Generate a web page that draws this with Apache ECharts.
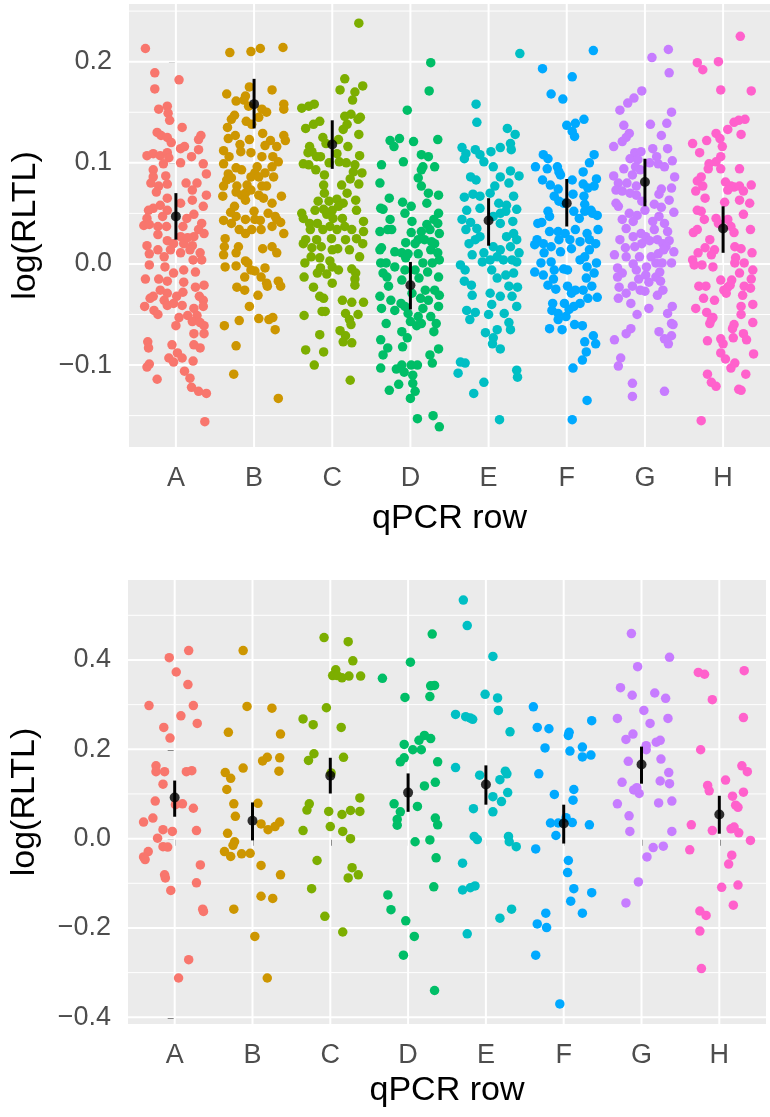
<!DOCTYPE html>
<html>
<head>
<meta charset="utf-8">
<script src="https://cdn.jsdelivr.net/npm/echarts@6/dist/echarts.min.js"></script>
<style>
  html, body { margin: 0; padding: 0; background: #ffffff; }
  #chart { width: 770px; height: 1117px; }
</style>
</head>
<body>
<div id="chart"></div>
<script>
// qPCR rows and their colours
const categories = ['A', 'B', 'C', 'D', 'E', 'F', 'G', 'H'];
const rowColors = ['#F8766D', '#CD9600', '#7CAE00', '#00BE67', '#00BFC4', '#00A9FF', '#C77CFF', '#FF61CC'];

// y tick values and labels of each panel
const topTicks = [-0.1, 0, 0.1, 0.2];
const topTickLabels = ['\u22120.1', '0.0', '0.1', '0.2'];
const topMinor = [-0.15, -0.05, 0.05, 0.15, 0.25];
const bottomTicks = [-0.4, -0.2, 0, 0.2, 0.4];
const bottomTickLabels = ['\u22120.4', '\u22120.2', '0.0', '0.2', '0.4'];
const bottomMinor = [-0.3, -0.1, 0.1, 0.3, 0.5];

// group means with their error bar limits
const topMean  = [0.047, 0.158, 0.118, -0.021, 0.043, 0.060, 0.081, 0.035];
const topLow   = [0.024, 0.134, 0.094, -0.045, 0.018, 0.037, 0.057, 0.011];
const topHigh  = [0.070, 0.183, 0.142, 0.002, 0.065, 0.084, 0.104, 0.057];
const bottomMean = [0.092, 0.040, 0.141, 0.103, 0.121, 0.034, 0.166, 0.054];
const bottomLow  = [0.049, -0.004, 0.101, 0.060, 0.076, -0.011, 0.123, 0.011];
const bottomHigh = [0.130, 0.081, 0.181, 0.146, 0.164, 0.076, 0.206, 0.096];

// individual samples: [horizontal jitter within the row, log(RLTL)]
const topA = [[-0.39,0.213],[-0.27,0.189],[0.04,0.182],[-0.27,0.173],[-0.22,0.153],[-0.11,0.156],[-0.10,0.149],[-0.08,0.142],[0.08,0.135],[0.32,0.127],[0.29,0.123],[-0.24,0.130],[-0.19,0.127],[-0.11,0.125],[-0.06,0.120],[0.29,0.113],[-0.37,0.107],[-0.29,0.109],[-0.20,0.107],[-0.11,0.110],[-0.09,0.105],[0.06,0.114],[0.11,0.116],[0.20,0.106],[0.06,0.100],[-0.16,0.099],[0.35,0.099],[-0.29,0.093],[0.39,0.089],[-0.29,0.086],[-0.13,0.087],[-0.32,0.080],[-0.22,0.077],[-0.11,0.079],[0.13,0.080],[0.27,0.080],[0.21,0.073],[0.39,0.068],[-0.25,0.071],[-0.11,0.065],[0.21,0.063],[0.06,0.060],[-0.20,0.058],[-0.29,0.055],[-0.35,0.053],[0.35,0.057],[-0.11,0.053],[0.23,0.049],[0.14,0.045],[-0.37,0.045],[-0.17,0.047],[-0.41,0.038],[-0.34,0.039],[-0.23,0.037],[-0.12,0.037],[0.09,0.037],[0.33,0.040],[0.29,0.034],[0.36,0.030],[-0.23,0.029],[0.06,0.027],[0.23,0.027],[-0.37,0.018],[-0.11,0.023],[-0.03,0.020],[0.10,0.020],[0.15,0.026],[0.21,0.018],[-0.07,0.014],[-0.23,0.014],[-0.34,0.010],[-0.15,0.007],[0.06,0.011],[0.18,0.014],[0.31,0.011],[0.33,0.004],[0.22,0.004],[-0.34,-0.001],[-0.14,-0.003],[-0.03,-0.009],[0.10,-0.006],[0.25,-0.008],[-0.39,-0.015],[-0.22,-0.015],[-0.11,-0.017],[0.10,-0.018],[0.25,-0.023],[0.36,-0.021],[-0.20,-0.026],[-0.11,-0.029],[-0.29,-0.032],[-0.15,-0.036],[0.01,-0.032],[0.09,-0.028],[0.30,-0.032],[0.35,-0.036],[-0.40,-0.042],[-0.33,-0.034],[-0.28,-0.046],[-0.23,-0.050],[-0.11,-0.041],[-0.03,-0.039],[0.08,-0.041],[0.15,-0.051],[0.23,-0.044],[0.27,-0.051],[0.35,-0.042],[0.04,-0.053],[0.00,-0.061],[0.21,-0.057],[0.31,-0.058],[0.36,-0.061],[0.23,-0.069],[0.36,-0.069],[-0.36,-0.077],[-0.35,-0.083],[-0.05,-0.080],[0.02,-0.088],[0.23,-0.080],[0.31,-0.083],[-0.09,-0.093],[-0.03,-0.097],[0.08,-0.093],[0.22,-0.096],[-0.34,-0.099],[-0.37,-0.102],[0.11,-0.106],[-0.24,-0.114],[0.18,-0.113],[0.20,-0.122],[0.29,-0.126],[0.39,-0.128],[0.37,-0.156]];
const topB = [[-0.31,0.209],[-0.04,0.210],[0.08,0.213],[0.37,0.214],[-0.35,0.168],[0.23,0.172],[-0.06,0.175],[-0.11,0.166],[-0.23,0.161],[-0.13,0.162],[-0.07,0.156],[0.10,0.153],[0.16,0.150],[0.38,0.158],[0.38,0.153],[-0.25,0.147],[-0.29,0.143],[0.06,0.145],[-0.10,0.141],[-0.03,0.138],[-0.34,0.135],[-0.33,0.124],[-0.24,0.127],[-0.06,0.123],[0.11,0.129],[0.21,0.122],[0.14,0.117],[0.29,0.116],[0.38,0.127],[0.40,0.122],[-0.18,0.118],[-0.39,0.112],[-0.17,0.111],[-0.04,0.110],[-0.32,0.106],[-0.39,0.099],[0.10,0.106],[0.24,0.106],[0.23,0.096],[-0.23,0.095],[-0.33,0.089],[-0.35,0.083],[-0.04,0.086],[0.04,0.096],[0.01,0.090],[0.06,0.086],[0.14,0.090],[0.25,0.086],[-0.39,0.077],[-0.22,0.077],[-0.09,0.078],[0.10,0.077],[-0.40,0.067],[-0.23,0.071],[-0.16,0.068],[-0.11,0.070],[-0.04,0.073],[0.06,0.068],[0.12,0.065],[-0.11,0.063],[0.23,0.060],[0.35,0.067],[-0.25,0.057],[0.00,0.052],[0.18,0.050],[0.27,0.047],[-0.39,0.043],[-0.29,0.040],[-0.23,0.047],[-0.11,0.044],[0.01,0.044],[0.08,0.043],[0.23,0.037],[0.34,0.041],[-0.19,0.034],[-0.11,0.030],[0.09,0.034],[0.38,0.030],[-0.37,0.025],[-0.38,0.017],[-0.20,0.017],[-0.23,0.011],[-0.39,0.009],[0.11,0.015],[0.23,0.017],[0.29,0.011],[-0.11,0.003],[-0.08,0.001],[-0.37,-0.003],[-0.23,-0.002],[-0.04,-0.006],[0.14,-0.004],[0.01,-0.007],[-0.12,-0.013],[0.09,-0.013],[0.16,-0.019],[0.17,-0.022],[0.31,-0.017],[0.34,-0.022],[-0.22,-0.023],[-0.12,-0.026],[0.05,-0.031],[-0.06,-0.042],[0.06,-0.054],[0.19,-0.055],[0.24,-0.053],[0.27,-0.065],[-0.19,-0.056],[-0.38,-0.061],[-0.23,-0.081],[-0.26,-0.109],[0.31,-0.133],[-0.30,0.051],[-0.03,0.034],[0.16,0.077],[-0.29,0.085],[-0.16,0.093],[0.31,0.101],[0.29,0.044]];
const topC = [[0.34,0.238],[0.16,0.183],[0.10,0.172],[0.39,0.176],[0.29,0.170],[0.26,0.162],[-0.39,0.154],[-0.30,0.156],[-0.23,0.158],[0.16,0.146],[0.24,0.148],[0.33,0.143],[0.36,0.145],[-0.16,0.141],[-0.24,0.138],[-0.34,0.134],[0.19,0.138],[0.14,0.133],[-0.12,0.125],[0.34,0.128],[-0.08,0.119],[0.08,0.123],[0.20,0.116],[-0.29,0.116],[-0.26,0.111],[-0.31,0.110],[-0.20,0.106],[-0.15,0.106],[-0.37,0.099],[-0.30,0.098],[-0.21,0.093],[-0.04,0.100],[0.06,0.109],[0.09,0.101],[0.35,0.107],[0.18,0.100],[0.29,0.098],[0.27,0.091],[0.23,0.084],[0.38,0.090],[0.34,0.079],[-0.10,0.088],[-0.11,0.078],[0.12,0.078],[-0.10,0.070],[0.19,0.070],[0.30,0.063],[-0.18,0.062],[-0.04,0.062],[0.06,0.064],[0.14,0.060],[-0.22,0.053],[-0.11,0.054],[0.00,0.053],[0.08,0.057],[-0.07,0.049],[-0.39,0.050],[0.31,0.053],[-0.37,0.045],[-0.29,0.040],[-0.19,0.040],[0.01,0.045],[0.13,0.045],[-0.03,0.037],[0.16,0.037],[0.40,0.042],[-0.28,0.034],[-0.12,0.034],[0.06,0.034],[0.25,0.034],[0.40,0.032],[-0.34,0.024],[-0.20,0.024],[-0.01,0.025],[0.17,0.024],[0.31,0.025],[0.39,0.020],[-0.37,0.020],[-0.26,0.016],[-0.14,0.017],[0.00,0.014],[0.07,0.015],[0.22,0.014],[-0.27,0.007],[-0.16,0.006],[-0.35,0.001],[-0.03,0.003],[0.35,0.007],[-0.15,-0.004],[0.00,-0.003],[0.08,-0.006],[0.25,-0.005],[0.30,-0.009],[-0.19,-0.009],[-0.07,-0.010],[0.00,-0.019],[-0.36,-0.013],[0.29,-0.015],[0.29,-0.021],[-0.24,-0.023],[-0.16,-0.032],[-0.11,-0.034],[0.13,-0.036],[0.25,-0.038],[0.40,-0.038],[-0.13,-0.047],[-0.09,-0.047],[0.17,-0.049],[0.22,-0.055],[0.33,-0.050],[-0.36,-0.051],[0.24,-0.060],[0.10,-0.066],[0.17,-0.071],[0.14,-0.077],[0.25,-0.078],[-0.16,-0.070],[-0.34,-0.085],[-0.11,-0.087],[-0.23,-0.100],[0.23,-0.115]];
const topD = [[0.26,0.199],[0.24,0.171],[-0.04,0.152],[-0.26,0.122],[-0.14,0.124],[-0.21,0.116],[0.04,0.121],[0.35,0.123],[-0.09,0.101],[0.14,0.108],[0.23,0.106],[-0.37,0.098],[0.31,0.096],[0.16,0.096],[0.14,0.093],[-0.39,0.080],[0.10,0.085],[0.14,0.077],[0.23,0.070],[0.36,0.068],[-0.27,0.065],[0.21,0.060],[-0.10,0.061],[0.01,0.057],[-0.38,0.055],[-0.35,0.054],[-0.26,0.044],[-0.07,0.050],[0.36,0.050],[0.02,0.042],[0.30,0.044],[0.21,0.039],[-0.29,0.034],[-0.24,0.034],[-0.39,0.032],[0.01,0.031],[0.14,0.032],[0.25,0.034],[0.35,0.040],[0.37,0.030],[0.10,0.024],[0.18,0.024],[0.27,0.022],[-0.06,0.021],[-0.37,0.016],[-0.39,0.014],[-0.20,0.012],[0.06,0.020],[0.31,0.020],[-0.11,0.011],[-0.03,0.010],[0.10,0.010],[0.26,0.014],[0.35,0.011],[-0.38,0.001],[-0.31,0.001],[-0.20,-0.003],[-0.06,0.006],[0.16,0.001],[0.28,0.001],[0.37,0.004],[-0.35,-0.009],[-0.30,-0.013],[-0.07,-0.006],[0.06,-0.006],[0.22,-0.008],[0.36,-0.013],[-0.11,-0.016],[0.11,-0.014],[-0.28,-0.022],[0.02,-0.029],[0.19,-0.026],[0.31,-0.026],[0.37,-0.031],[-0.39,-0.032],[-0.25,-0.036],[-0.12,-0.039],[0.13,-0.034],[0.23,-0.036],[-0.37,-0.044],[-0.20,-0.046],[-0.07,-0.042],[0.16,-0.044],[0.36,-0.042],[-0.03,-0.049],[0.10,-0.052],[0.26,-0.052],[-0.31,-0.059],[0.00,-0.057],[0.08,-0.061],[0.14,-0.059],[0.33,-0.059],[-0.11,-0.067],[0.30,-0.067],[-0.04,-0.073],[-0.38,-0.075],[-0.29,-0.083],[-0.35,-0.090],[-0.10,-0.082],[0.25,-0.090],[0.36,-0.084],[-0.38,-0.103],[-0.18,-0.104],[-0.11,-0.100],[0.01,-0.100],[0.09,-0.100],[0.28,-0.098],[-0.08,-0.107],[0.03,-0.110],[-0.27,-0.125],[-0.15,-0.119],[0.03,-0.118],[0.06,-0.126],[0.00,-0.133],[0.09,-0.153],[0.29,-0.150],[0.37,-0.161]];
const topE = [[0.40,0.208],[-0.16,0.158],[-0.15,0.140],[0.24,0.134],[0.34,0.128],[0.28,0.119],[0.29,0.113],[-0.34,0.115],[-0.29,0.109],[-0.17,0.113],[-0.31,0.104],[-0.11,0.108],[-0.06,0.101],[0.03,0.111],[0.15,0.115],[0.06,0.096],[0.28,0.092],[0.39,0.087],[-0.23,0.086],[-0.16,0.083],[0.15,0.086],[0.08,0.077],[0.26,0.080],[-0.31,0.066],[-0.20,0.069],[-0.11,0.067],[0.32,0.067],[0.02,0.070],[0.13,0.060],[0.23,0.058],[0.36,0.054],[-0.28,0.053],[-0.11,0.055],[-0.34,0.044],[-0.23,0.041],[-0.29,0.034],[-0.15,0.035],[0.06,0.047],[0.15,0.050],[0.22,0.052],[0.31,0.042],[0.15,0.040],[-0.17,0.024],[-0.11,0.027],[-0.25,0.020],[0.23,0.027],[0.32,0.030],[0.36,0.024],[-0.06,0.011],[0.06,0.017],[0.15,0.014],[0.28,0.017],[0.39,0.011],[-0.21,0.009],[-0.36,-0.001],[-0.08,0.002],[0.02,0.004],[0.11,0.007],[0.19,0.004],[0.30,0.004],[0.36,0.002],[-0.30,-0.006],[0.04,-0.006],[0.32,-0.009],[-0.31,-0.017],[-0.22,-0.021],[0.11,-0.014],[0.22,-0.011],[0.26,-0.022],[0.37,-0.023],[-0.21,-0.031],[0.02,-0.029],[0.15,-0.032],[0.30,-0.032],[0.36,-0.042],[0.04,-0.040],[-0.28,-0.046],[-0.17,-0.048],[-0.24,-0.055],[0.00,-0.050],[0.20,-0.049],[0.26,-0.058],[0.28,-0.065],[-0.04,-0.068],[0.11,-0.065],[0.06,-0.073],[0.05,-0.079],[0.15,-0.084],[-0.36,-0.097],[-0.30,-0.098],[-0.39,-0.108],[0.36,-0.105],[0.37,-0.112],[-0.06,-0.117],[-0.19,-0.128],[0.14,-0.154]];
const topF = [[0.34,0.211],[-0.31,0.193],[0.07,0.185],[-0.20,0.168],[-0.05,0.163],[0.22,0.143],[0.00,0.137],[0.11,0.139],[0.07,0.131],[0.10,0.126],[0.35,0.108],[0.29,0.100],[-0.30,0.108],[-0.24,0.104],[-0.40,0.096],[-0.25,0.094],[-0.12,0.096],[-0.10,0.091],[-0.08,0.088],[0.21,0.091],[0.38,0.084],[-0.31,0.083],[-0.21,0.078],[-0.11,0.074],[0.07,0.083],[0.21,0.079],[0.27,0.075],[0.35,0.077],[-0.16,0.067],[-0.10,0.062],[-0.04,0.060],[0.08,0.069],[0.22,0.067],[0.23,0.059],[0.31,0.053],[0.39,0.048],[-0.24,0.052],[-0.22,0.047],[-0.37,0.040],[-0.32,0.041],[0.09,0.052],[0.16,0.045],[0.23,0.052],[0.33,0.050],[-0.22,0.032],[-0.11,0.032],[-0.02,0.030],[0.11,0.034],[0.26,0.030],[0.40,0.034],[-0.38,0.024],[-0.41,0.019],[-0.30,0.020],[-0.20,0.017],[-0.10,0.024],[0.04,0.024],[0.17,0.022],[0.29,0.024],[0.37,0.020],[-0.29,0.011],[-0.08,0.012],[0.06,0.015],[0.17,0.004],[0.23,0.007],[0.29,0.014],[0.38,0.001],[-0.33,0.001],[-0.20,0.002],[-0.04,-0.005],[-0.41,-0.008],[-0.30,-0.011],[-0.16,-0.006],[0.01,-0.006],[0.26,-0.003],[0.35,-0.009],[0.25,-0.014],[-0.17,-0.015],[-0.24,-0.021],[0.01,-0.022],[0.11,-0.026],[0.21,-0.026],[0.32,-0.022],[0.39,-0.033],[0.27,-0.034],[-0.14,-0.025],[0.06,-0.029],[-0.18,-0.039],[-0.03,-0.039],[0.09,-0.042],[0.17,-0.039],[-0.19,-0.046],[-0.11,-0.049],[0.03,-0.045],[-0.11,-0.055],[-0.01,-0.052],[0.10,-0.060],[0.20,-0.061],[-0.22,-0.064],[-0.06,-0.065],[0.34,-0.071],[0.23,-0.077],[0.37,-0.079],[0.25,-0.087],[0.20,-0.095],[0.08,-0.103],[0.26,-0.135],[0.07,-0.154]];
const topG = [[0.30,0.212],[0.09,0.204],[0.31,0.189],[-0.04,0.171],[-0.14,0.164],[-0.22,0.159],[-0.32,0.152],[0.34,0.150],[0.07,0.138],[0.28,0.139],[-0.27,0.137],[-0.20,0.129],[-0.24,0.125],[-0.29,0.121],[0.21,0.127],[-0.40,0.116],[0.10,0.114],[0.29,0.114],[-0.13,0.110],[-0.05,0.111],[-0.19,0.104],[-0.09,0.103],[0.15,0.106],[0.06,0.100],[0.17,0.099],[0.25,0.096],[0.35,0.102],[-0.27,0.094],[-0.12,0.096],[-0.06,0.093],[-0.40,0.087],[-0.16,0.088],[0.38,0.086],[-0.34,0.080],[-0.23,0.080],[-0.11,0.077],[-0.37,0.073],[-0.29,0.072],[-0.11,0.068],[-0.19,0.070],[0.21,0.074],[0.34,0.075],[0.18,0.069],[0.31,0.063],[-0.04,0.062],[-0.37,0.060],[-0.34,0.057],[0.12,0.059],[0.21,0.056],[0.00,0.053],[0.37,0.051],[-0.20,0.050],[-0.10,0.048],[0.18,0.047],[-0.29,0.044],[-0.15,0.042],[0.10,0.042],[0.25,0.040],[-0.24,0.035],[0.12,0.034],[0.29,0.032],[-0.05,0.030],[0.01,0.027],[-0.32,0.024],[-0.15,0.027],[0.06,0.023],[0.16,0.024],[0.23,0.020],[0.31,0.023],[-0.25,0.016],[-0.13,0.017],[-0.04,0.020],[0.27,0.017],[0.37,0.012],[-0.39,0.009],[-0.24,0.007],[-0.07,0.007],[0.08,0.007],[0.17,0.010],[0.24,0.014],[-0.35,-0.004],[-0.15,0.000],[0.02,-0.003],[0.14,0.001],[0.22,0.001],[0.34,0.001],[-0.29,-0.009],[-0.11,-0.006],[0.01,-0.011],[0.14,-0.013],[0.19,-0.008],[-0.35,-0.013],[-0.08,-0.015],[0.05,-0.018],[0.20,-0.017],[-0.33,-0.023],[-0.24,-0.029],[-0.16,-0.022],[-0.06,-0.026],[0.00,-0.027],[0.16,-0.031],[0.23,-0.026],[-0.34,-0.034],[-0.18,-0.039],[0.05,-0.044],[-0.10,-0.050],[0.35,-0.042],[0.29,-0.049],[0.34,-0.059],[0.36,-0.060],[0.18,-0.067],[0.25,-0.074],[0.30,-0.079],[0.34,-0.071],[-0.18,-0.064],[-0.24,-0.069],[-0.39,-0.075],[-0.31,-0.093],[-0.34,-0.101],[-0.16,-0.118],[-0.16,-0.131],[0.25,-0.126]];
const topH = [[0.22,0.225],[-0.33,0.199],[-0.26,0.192],[-0.06,0.200],[-0.03,0.172],[0.36,0.171],[0.28,0.143],[0.20,0.142],[0.14,0.140],[0.06,0.133],[0.23,0.128],[-0.09,0.129],[-0.04,0.124],[-0.39,0.119],[-0.21,0.122],[-0.30,0.110],[-0.01,0.116],[-0.03,0.106],[-0.09,0.101],[-0.18,0.099],[-0.19,0.094],[-0.03,0.094],[0.21,0.094],[-0.28,0.086],[-0.33,0.082],[-0.26,0.077],[0.03,0.081],[0.10,0.077],[0.14,0.076],[0.21,0.077],[0.36,0.078],[0.26,0.072],[-0.35,0.072],[-0.23,0.065],[0.21,0.063],[0.34,0.060],[0.02,0.061],[0.06,0.073],[-0.28,0.052],[-0.33,0.053],[0.26,0.049],[-0.09,0.045],[0.06,0.044],[-0.06,0.040],[0.10,0.037],[0.14,0.031],[0.35,0.034],[-0.38,0.031],[-0.33,0.034],[-0.24,0.044],[-0.17,0.024],[0.15,0.017],[0.23,0.015],[-0.23,0.016],[-0.11,0.014],[-0.32,0.011],[-0.15,0.009],[0.37,0.011],[-0.39,0.004],[-0.37,-0.001],[-0.27,-0.001],[-0.13,-0.003],[0.16,0.006],[0.15,0.001],[0.27,0.001],[0.21,-0.009],[0.38,-0.006],[-0.03,-0.016],[0.11,-0.016],[0.06,-0.023],[0.01,-0.026],[0.09,-0.021],[0.27,-0.022],[0.36,-0.015],[-0.31,-0.022],[-0.22,-0.022],[0.35,-0.024],[-0.25,-0.034],[-0.11,-0.036],[0.04,-0.029],[0.25,-0.031],[-0.35,-0.044],[-0.21,-0.048],[-0.13,-0.053],[-0.17,-0.059],[0.23,-0.042],[0.38,-0.040],[0.23,-0.050],[-0.15,-0.055],[0.14,-0.060],[0.12,-0.064],[0.38,-0.058],[0.26,-0.069],[0.30,-0.075],[-0.20,-0.076],[-0.03,-0.074],[0.00,-0.079],[0.13,-0.073],[-0.03,-0.088],[0.03,-0.094],[0.39,-0.089],[0.10,-0.103],[0.15,-0.098],[-0.20,-0.109],[0.29,-0.109],[-0.15,-0.117],[-0.09,-0.121],[0.20,-0.124],[0.23,-0.125],[-0.28,-0.155]];

const bottomA = [[0.18,0.421],[-0.07,0.405],[0.02,0.373],[0.17,0.345],[-0.33,0.298],[0.24,0.298],[0.08,0.275],[-0.14,0.249],[0.29,0.258],[-0.06,0.225],[-0.24,0.163],[-0.24,0.150],[-0.13,0.150],[0.15,0.150],[0.22,0.152],[-0.15,0.122],[-0.25,0.084],[0.01,0.076],[0.10,0.078],[0.24,0.068],[-0.28,0.046],[-0.40,0.037],[-0.15,0.020],[-0.03,0.016],[0.28,0.018],[-0.22,0.001],[-0.15,-0.018],[-0.09,-0.019],[-0.34,-0.029],[-0.40,-0.041],[-0.38,-0.047],[0.33,-0.059],[-0.13,-0.081],[-0.12,-0.088],[0.28,-0.099],[-0.05,-0.116],[0.36,-0.158],[0.37,-0.163],[0.18,-0.271],[0.05,-0.312]];
const bottomB = [[-0.12,0.421],[-0.07,0.296],[0.25,0.292],[-0.31,0.238],[0.36,0.234],[0.13,0.174],[0.19,0.182],[0.35,0.181],[0.34,0.151],[-0.12,0.158],[-0.35,0.148],[-0.28,0.135],[-0.33,0.110],[-0.24,0.078],[0.07,0.079],[-0.22,0.050],[0.11,0.033],[0.20,0.020],[0.29,0.027],[0.35,0.037],[-0.32,0.012],[-0.23,-0.007],[-0.25,-0.015],[-0.36,-0.029],[-0.28,-0.040],[-0.14,-0.034],[-0.03,-0.033],[0.11,-0.060],[0.36,-0.081],[0.11,-0.129],[0.26,-0.134],[-0.24,-0.158],[0.03,-0.219],[0.19,-0.312]];
const bottomC = [[-0.08,0.450],[0.23,0.441],[0.29,0.398],[0.07,0.378],[0.03,0.365],[0.15,0.360],[0.24,0.364],[0.39,0.364],[0.09,0.365],[-0.05,0.293],[-0.35,0.268],[-0.22,0.255],[0.14,0.249],[-0.21,0.190],[-0.28,0.175],[0.17,0.182],[0.01,0.147],[-0.27,0.078],[-0.30,0.064],[0.38,0.091],[-0.02,0.061],[0.15,0.054],[0.26,0.063],[0.38,0.061],[-0.35,0.018],[0.00,0.027],[0.16,0.016],[0.26,0.000],[-0.17,-0.049],[0.28,-0.065],[0.23,-0.088],[0.36,-0.081],[-0.24,-0.112],[-0.07,-0.174],[0.16,-0.209]];
const bottomD = [[0.31,0.458],[0.03,0.395],[-0.33,0.359],[0.29,0.342],[0.34,0.343],[-0.04,0.316],[0.28,0.318],[0.21,0.231],[0.14,0.220],[0.29,0.224],[-0.05,0.211],[0.06,0.199],[0.17,0.199],[-0.05,0.181],[-0.10,0.172],[0.38,0.172],[0.35,0.126],[0.21,0.118],[-0.18,0.078],[0.12,0.072],[-0.10,0.060],[-0.14,0.043],[-0.14,0.030],[0.35,0.046],[0.38,0.031],[0.09,-0.007],[0.28,-0.003],[0.36,-0.043],[0.33,-0.108],[-0.26,-0.126],[-0.22,-0.159],[-0.03,-0.184],[0.08,-0.219],[-0.06,-0.261],[0.34,-0.340]];
const bottomE = [[-0.29,0.534],[-0.24,0.477],[0.09,0.408],[-0.01,0.323],[0.15,0.315],[0.16,0.287],[-0.39,0.278],[-0.26,0.273],[-0.20,0.270],[-0.17,0.267],[0.31,0.239],[-0.39,0.159],[-0.08,0.142],[0.25,0.151],[0.27,0.145],[0.18,0.132],[0.28,0.103],[0.09,0.094],[0.20,0.083],[-0.16,0.067],[0.09,0.060],[-0.15,0.005],[-0.11,-0.002],[0.29,0.005],[0.30,-0.007],[0.39,-0.018],[-0.30,-0.055],[-0.30,-0.115],[-0.20,-0.110],[-0.14,-0.106],[0.33,-0.158],[0.18,-0.178],[-0.24,-0.213]];
const bottomF = [[-0.39,0.295],[0.36,0.264],[-0.34,0.249],[-0.19,0.246],[0.07,0.238],[0.06,0.231],[-0.24,0.203],[0.08,0.196],[0.24,0.205],[0.24,0.183],[0.35,0.187],[-0.32,0.145],[0.13,0.110],[-0.12,0.099],[0.12,0.086],[-0.17,0.035],[-0.07,0.035],[0.03,0.047],[0.11,0.036],[0.33,0.031],[-0.10,0.007],[-0.36,-0.023],[0.06,-0.049],[0.05,-0.076],[0.13,-0.112],[0.36,-0.121],[0.09,-0.140],[-0.23,-0.167],[0.24,-0.167],[-0.34,-0.191],[-0.22,-0.199],[-0.36,-0.261],[-0.05,-0.370]];
const bottomG = [[-0.13,0.459],[0.36,0.406],[-0.05,0.385],[-0.27,0.338],[-0.12,0.321],[0.17,0.326],[0.31,0.314],[0.03,0.287],[-0.31,0.269],[0.11,0.258],[0.34,0.269],[-0.11,0.234],[-0.20,0.222],[0.06,0.208],[0.06,0.199],[0.19,0.216],[0.24,0.220],[-0.17,0.173],[0.25,0.178],[0.35,0.148],[-0.25,0.126],[0.24,0.129],[0.36,0.123],[-0.10,0.109],[-0.06,0.114],[-0.03,0.101],[-0.31,0.078],[0.22,0.080],[0.39,0.084],[-0.16,0.051],[-0.15,0.016],[0.39,0.016],[0.15,-0.020],[0.28,-0.017],[0.07,-0.041],[-0.04,-0.097],[-0.20,-0.144]];
const bottomH = [[-0.27,0.372],[-0.19,0.368],[0.32,0.376],[-0.09,0.311],[0.31,0.271],[-0.24,0.199],[0.29,0.163],[0.36,0.150],[0.08,0.131],[-0.15,0.119],[-0.13,0.107],[0.17,0.095],[0.31,0.104],[0.21,0.075],[0.24,0.070],[-0.36,0.031],[-0.09,0.018],[0.15,0.022],[0.19,0.026],[0.25,0.013],[0.40,-0.004],[-0.38,-0.025],[0.16,-0.037],[0.12,-0.057],[0.03,-0.109],[0.24,-0.104],[0.18,-0.149],[-0.25,-0.162],[-0.17,-0.172],[-0.25,-0.207],[-0.23,-0.291]];

const topGroups = [topA, topB, topC, topD, topE, topF, topG, topH];
const bottomGroups = [bottomA, bottomB, bottomC, bottomD, bottomE, bottomF, bottomG, bottomH];

const FONT = 'Liberation Sans, Arial, sans-serif';
const TICK_COLOR = '#333333';
const LABEL_COLOR = '#4D4D4D';
const categoryIndex = categories.map((c, i) => i);

function labelFor(values, labels) {
  return function (v) {
    for (let i = 0; i < values.length; i++) {
      if (Math.abs(values[i] - v) < 1e-6) return labels[i];
    }
    return '';
  };
}

function xAxisFor(gridIndex, nameGap) {
  return {
    gridIndex: gridIndex, type: 'value', min: -0.6, max: 7.6,
    name: 'qPCR row', nameLocation: 'middle', nameGap: nameGap,
    nameTextStyle: { fontFamily: FONT, fontSize: 34, color: '#000000' },
    axisLine: { show: false },
    axisTick: { show: true, customValues: categoryIndex, length: 7, lineStyle: { color: TICK_COLOR, width: 1.5 } },
    axisLabel: { customValues: categoryIndex, margin: 18, fontFamily: FONT, fontSize: 27, color: LABEL_COLOR,
      formatter: function (v) { return categories[Math.round(v)]; } },
    splitLine: { show: false }
  };
}

function yAxisFor(gridIndex, min, max, ticks, labels, nameGap) {
  return {
    gridIndex: gridIndex, type: 'value', min: min, max: max,
    name: 'log(RLTL)', nameLocation: 'middle', nameGap: nameGap, nameRotate: 90,
    nameTextStyle: { fontFamily: FONT, fontSize: 34, color: '#000000' },
    axisLine: { show: false },
    axisTick: { show: true, customValues: ticks, length: 7, lineStyle: { color: TICK_COLOR, width: 1.5 } },
    axisLabel: { customValues: ticks, margin: 17, fontFamily: FONT, fontSize: 27, color: LABEL_COLOR,
      formatter: labelFor(ticks, labels) },
    splitLine: { show: false }
  };
}

// white panel grid lines drawn through the axes' own scales
function hGridSeries(panel, values, width) {
  return {
    type: 'custom', xAxisIndex: panel, yAxisIndex: panel, z: 1, silent: true, clip: false,
    data: values.map(v => [0, v]),
    encode: { x: 0, y: 1 },
    renderItem: function (params, api) {
      const cs = params.coordSys;
      const y = api.coord([0, api.value(1)])[1];
      return { type: 'line', shape: { x1: cs.x, y1: y, x2: cs.x + cs.width, y2: y },
        style: { stroke: '#FFFFFF', lineWidth: width } };
    }
  };
}
function vGridSeries(panel, width) {
  return {
    type: 'custom', xAxisIndex: panel, yAxisIndex: panel, z: 1, silent: true, clip: false,
    data: categoryIndex.map(i => [i, 0]),
    encode: { x: 0, y: 1 },
    renderItem: function (params, api) {
      const cs = params.coordSys;
      const x = api.coord([api.value(0), 0])[0];
      return { type: 'line', shape: { x1: x, y1: cs.y, x2: x, y2: cs.y + cs.height },
        style: { stroke: '#FFFFFF', lineWidth: width } };
    }
  };
}

function pointSeries(panel, groups) {
  return groups.map((pts, gi) => ({
    type: 'scatter', xAxisIndex: panel, yAxisIndex: panel, z: 2, silent: true,
    symbol: 'circle', symbolSize: 9.5,
    itemStyle: { color: rowColors[gi], opacity: 1 },
    data: pts.map(p => [gi + p[0], p[1]])
  }));
}

function errorBarSeries(panel, low, high) {
  return {
    type: 'custom', xAxisIndex: panel, yAxisIndex: panel, z: 3, silent: true,
    data: categoryIndex.map(i => [i, low[i], high[i]]),
    encode: { x: 0, y: [1, 2] },
    renderItem: function (params, api) {
      const a = api.coord([api.value(0), api.value(1)]);
      const b = api.coord([api.value(0), api.value(2)]);
      return { type: 'line', shape: { x1: a[0], y1: a[1], x2: b[0], y2: b[1] },
        style: { stroke: '#000000', lineWidth: 3 } };
    }
  };
}

function meanSeries(panel, means) {
  return {
    type: 'scatter', xAxisIndex: panel, yAxisIndex: panel, z: 4, silent: true,
    symbol: 'circle', symbolSize: 10, itemStyle: { color: '#000000' },
    data: categoryIndex.map(i => [i, means[i]])
  };
}

const chart = echarts.init(document.getElementById('chart'), null, { renderer: 'canvas' });
chart.setOption({
  animation: false,
  backgroundColor: '#FFFFFF',
  grid: [
    { left: 129, top: 4, width: 641, height: 443, show: true, backgroundColor: '#EBEBEB', borderWidth: 0 },
    { left: 126, top: 580, width: 640, height: 444, show: true, backgroundColor: '#EBEBEB', borderWidth: 0 }
  ],
  xAxis: [xAxisFor(0, 55), xAxisFor(1, 50)],
  yAxis: [
    yAxisFor(0, -0.181, 0.257, topTicks, topTickLabels, 86),
    yAxisFor(1, -0.415, 0.579, bottomTicks, bottomTickLabels, 86)
  ],
  series: [
    hGridSeries(0, topMinor, 1), hGridSeries(0, topTicks, 2), vGridSeries(0, 2),
    hGridSeries(1, bottomMinor, 1), hGridSeries(1, bottomTicks, 2), vGridSeries(1, 2)
  ].concat(
    pointSeries(0, topGroups),
    pointSeries(1, bottomGroups),
    [errorBarSeries(0, topLow, topHigh), meanSeries(0, topMean),
     errorBarSeries(1, bottomLow, bottomHigh), meanSeries(1, bottomMean)]
  )
});
</script>
</body>
</html>
